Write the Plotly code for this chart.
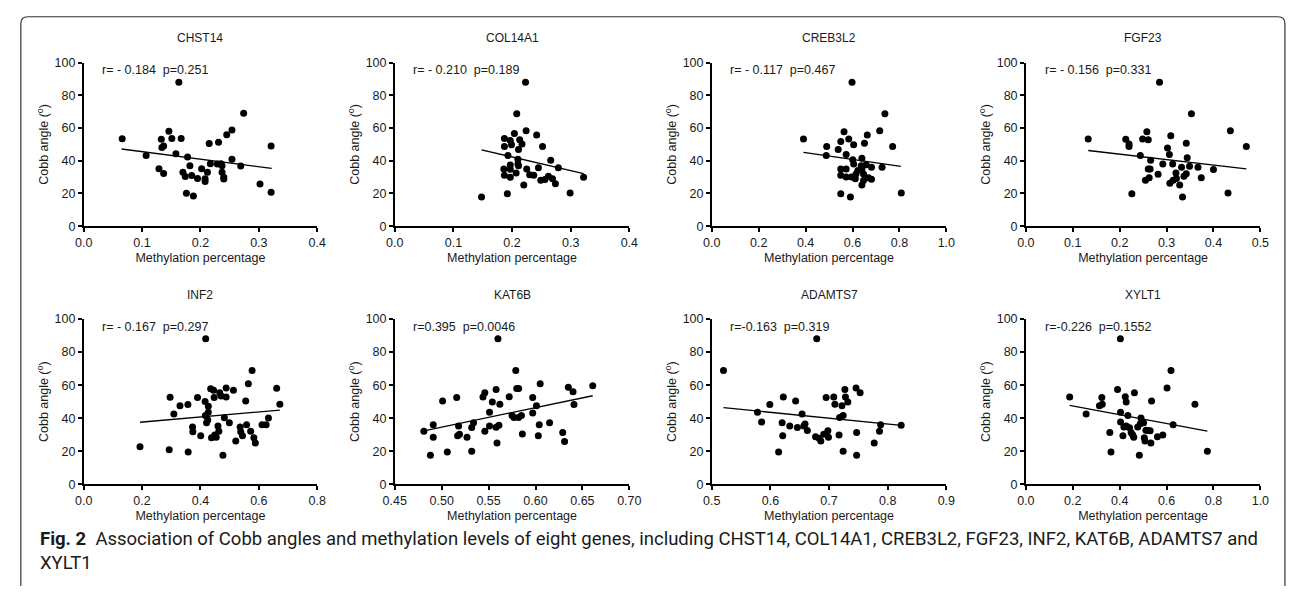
import plotly.graph_objects as go

# ---------------- data ----------------
genes = ["CHST14", "COL14A1", "CREB3L2", "FGF23", "INF2", "KAT6B", "ADAMTS7", "XYLT1"]
stats_text = ["r= - 0.184  p=0.251", "r= - 0.210  p=0.189", "r= - 0.117  p=0.467",
              "r= - 0.156  p=0.331", "r= - 0.167  p=0.297", "r=0.395  p=0.0046",
              "r=-0.163  p=0.319", "r=-0.226  p=0.1552"]

CHST14_x = [0.066, 0.107, 0.129, 0.133, 0.134, 0.137, 0.137, 0.146, 0.151, 0.158, 0.163, 0.167,
            0.170, 0.174, 0.176, 0.178, 0.182, 0.185, 0.188, 0.195, 0.202, 0.208, 0.208, 0.212,
            0.215, 0.217, 0.229, 0.231, 0.235, 0.237, 0.237, 0.240, 0.240, 0.245, 0.254, 0.254,
            0.269, 0.274, 0.302, 0.321, 0.321]
CHST14_y = [53.5, 43.3, 35.2, 53.1, 48.1, 49.1, 32.2, 58.0, 53.7, 44.3, 88.0, 53.7,
            33.0, 30.4, 20.1, 42.3, 37.0, 31.0, 18.5, 29.2, 35.2, 29.0, 27.4, 33.0,
            50.5, 38.2, 38.0, 51.3, 38.2, 37.0, 33.0, 30.0, 28.8, 55.9, 58.8, 41.0,
            36.8, 69.0, 25.8, 49.1, 20.7]

COL14A1_x = [0.148, 0.192, 0.186, 0.187, 0.187, 0.187, 0.193, 0.197, 0.197, 0.197, 0.197, 0.199,
             0.204, 0.208, 0.207, 0.210, 0.210, 0.211, 0.211, 0.213, 0.217, 0.220, 0.223, 0.224,
             0.225, 0.230, 0.237, 0.242, 0.245, 0.249, 0.252, 0.256, 0.262, 0.266, 0.269, 0.274,
             0.279, 0.299, 0.322]
COL14A1_y = [17.9, 19.9, 35.0, 31.1, 53.7, 48.8, 43.3, 37.4, 34.8, 29.9, 52.4, 49.8,
             56.7, 68.8, 32.5, 40.9, 38.0, 37.0, 46.9, 52.8, 50.2, 25.2, 88.0, 58.3,
             35.0, 31.5, 31.1, 55.8, 35.8, 28.1, 48.8, 28.5, 30.5, 40.4, 29.0, 26.0,
             35.8, 20.3, 29.9]

CREB3L2_x = [0.391, 0.490, 0.488, 0.539, 0.550, 0.550, 0.550, 0.550, 0.564, 0.573, 0.573, 0.573,
             0.584, 0.591, 0.598, 0.601, 0.605, 0.605, 0.596, 0.612, 0.615, 0.623, 0.640, 0.637,
             0.640, 0.640, 0.647, 0.647, 0.651, 0.658, 0.663, 0.668, 0.681, 0.681, 0.716, 0.726,
             0.738, 0.771, 0.808]
CREB3L2_y = [53.3, 48.8, 43.3, 46.9, 51.8, 35.0, 31.1, 19.9, 57.7, 43.9, 35.0, 30.1,
             53.3, 17.9, 88.0, 40.6, 38.0, 49.8, 30.1, 29.0, 32.0, 34.0, 41.5, 37.0,
             35.0, 25.2, 28.0, 32.0, 50.8, 37.6, 55.7, 29.7, 28.7, 36.0, 58.3, 36.0,
             68.8, 48.8, 20.3]

FGF23_x = [0.133, 0.213, 0.220, 0.220, 0.226, 0.244, 0.249, 0.255, 0.258, 0.261, 0.261, 0.265,
           0.266, 0.263, 0.282, 0.285, 0.292, 0.302, 0.306, 0.307, 0.309, 0.313, 0.314, 0.320,
           0.321, 0.328, 0.332, 0.334, 0.337, 0.342, 0.342, 0.344, 0.349, 0.353, 0.367, 0.374,
           0.400, 0.431, 0.436, 0.470]
FGF23_y = [53.3, 53.1, 50.2, 48.8, 19.9, 43.3, 53.3, 28.1, 57.7, 52.8, 35.0, 35.0,
           40.4, 29.7, 31.7, 88.0, 38.0, 47.8, 43.9, 26.2, 55.3, 38.0, 28.1, 32.5,
           29.1, 25.2, 36.0, 17.9, 30.5, 32.1, 50.8, 41.9, 36.6, 68.8, 36.0, 29.7,
           34.6, 20.3, 58.3, 48.8]

INF2_x = [0.193, 0.293, 0.296, 0.309, 0.330, 0.357, 0.358, 0.373, 0.374, 0.390, 0.401, 0.416,
          0.417, 0.418, 0.421, 0.425, 0.427, 0.427, 0.435, 0.438, 0.445, 0.447, 0.449, 0.454,
          0.460, 0.463, 0.466, 0.471, 0.477, 0.482, 0.488, 0.488, 0.499, 0.513, 0.521, 0.536,
          0.538, 0.544, 0.555, 0.558, 0.564, 0.572, 0.577, 0.583, 0.588, 0.611, 0.625, 0.633,
          0.661, 0.672]
INF2_y = [22.8, 21.0, 52.7, 42.6, 47.5, 48.3, 19.6, 34.8, 31.8, 52.5, 29.5, 50.1,
          41.7, 88.0, 37.3, 39.0, 47.2, 43.6, 57.8, 28.3, 57.0, 52.5, 29.9, 28.5,
          35.4, 32.2, 55.4, 53.4, 17.7, 40.3, 58.3, 52.8, 37.3, 57.0, 26.3, 34.8,
          31.8, 29.5, 50.5, 36.1, 60.9, 32.2, 68.8, 28.3, 25.0, 36.1, 36.1, 40.1,
          58.2, 48.5]

KAT6B_x = [0.481, 0.488, 0.491, 0.491, 0.501, 0.506, 0.516, 0.517, 0.518, 0.519, 0.527, 0.532,
           0.532, 0.534, 0.544, 0.546, 0.546, 0.551, 0.551, 0.554, 0.558, 0.558, 0.559, 0.560,
           0.561, 0.562, 0.572, 0.575, 0.577, 0.579, 0.580, 0.582, 0.582, 0.585, 0.586, 0.597,
           0.597, 0.601, 0.603, 0.604, 0.605, 0.615, 0.629, 0.631, 0.635, 0.640, 0.641, 0.661]
KAT6B_y = [32.2, 17.7, 28.5, 36.1, 50.5, 19.6, 52.5, 29.5, 35.4, 30.3, 28.5, 34.4,
           20.0, 37.3, 52.8, 55.4, 32.2, 43.6, 35.4, 49.9, 57.4, 34.6, 25.0, 88.0,
           35.8, 48.5, 53.0, 41.7, 40.5, 68.8, 58.0, 58.0, 40.5, 41.7, 30.5, 52.5,
           43.2, 47.5, 29.5, 36.1, 60.9, 37.3, 31.4, 25.9, 58.7, 56.0, 48.3, 59.7]

ADAMTS7_x = [0.520, 0.578, 0.585, 0.599, 0.614, 0.620, 0.621, 0.622, 0.633, 0.643, 0.646, 0.654,
             0.657, 0.659, 0.663, 0.677, 0.679, 0.683, 0.686, 0.691, 0.695, 0.698, 0.699, 0.708,
             0.710, 0.717, 0.718, 0.722, 0.724, 0.724, 0.727, 0.728, 0.732, 0.746, 0.747, 0.747,
             0.753, 0.777, 0.786, 0.788, 0.823]
ADAMTS7_y = [68.8, 43.6, 37.7, 48.3, 19.6, 37.3, 29.5, 52.8, 35.4, 50.5, 34.4, 42.6,
             35.4, 36.5, 32.6, 28.9, 88.0, 27.9, 26.3, 30.3, 52.5, 32.4, 28.5, 52.8,
             48.5, 29.9, 40.5, 47.5, 41.7, 20.0, 57.4, 52.8, 49.9, 58.3, 31.4, 17.7,
             55.4, 25.0, 32.2, 36.1, 35.8]

XYLT1_x = [0.187, 0.257, 0.314, 0.324, 0.326, 0.358, 0.363, 0.391, 0.403, 0.404, 0.404, 0.414,
           0.418, 0.424, 0.428, 0.428, 0.435, 0.442, 0.449, 0.456, 0.460, 0.463, 0.477, 0.484,
           0.488, 0.491, 0.502, 0.505, 0.508, 0.512, 0.522, 0.530, 0.533, 0.536, 0.561, 0.584,
           0.602, 0.619, 0.628, 0.721, 0.774]
XYLT1_y = [52.8, 42.6, 47.5, 52.5, 48.5, 31.4, 19.6, 57.4, 88.0, 43.6, 37.7, 29.5,
           34.8, 53.0, 49.9, 35.4, 41.7, 34.2, 31.4, 29.9, 28.5, 55.4, 34.8, 17.7,
           36.7, 40.1, 37.3, 28.3, 26.3, 32.8, 32.6, 32.4, 25.0, 50.5, 28.9, 29.9,
           58.3, 68.8, 36.1, 48.5, 20.0]

# regression line end points
fit_x = [[0.065, 0.322], [0.148, 0.322], [0.391, 0.806], [0.133, 0.470],
         [0.193, 0.672], [0.481, 0.661], [0.520, 0.823], [0.187, 0.774]]
fit_y = [[47.2, 35.3], [46.7, 32.1], [45.2, 36.6], [46.3, 35.0],
         [37.6, 44.9], [32.4, 53.6], [46.4, 35.7], [47.8, 32.3]]

x_ranges = [[0, 0.4], [0, 0.4], [0, 1.0], [0, 0.5], [0, 0.8], [0.45, 0.70], [0.5, 0.9], [0, 1.0]]
x_dticks = [0.1, 0.1, 0.2, 0.1, 0.2, 0.05, 0.1, 0.2]
x_formats = [".1f", ".1f", ".1f", ".1f", ".1f", ".2f", ".1f", ".1f"]
y_range = [0, 100]
y_dtick = 20

xs = [CHST14_x, COL14A1_x, CREB3L2_x, FGF23_x, INF2_x, KAT6B_x, ADAMTS7_x, XYLT1_x]
ys = [CHST14_y, COL14A1_y, CREB3L2_y, FGF23_y, INF2_y, KAT6B_y, ADAMTS7_y, XYLT1_y]

caption_bold = "Fig. 2"
caption_text = ("Association of Cobb angles and methylation levels of eight genes, including CHST14, "
                "COL14A1, CREB3L2, FGF23, INF2, KAT6B, ADAMTS7 and<br>XYLT1")

# ---------------- layout ----------------
W, H = 1293, 594
col_px = [(73, 311), (390, 629), (713, 952), (1033, 1272)]
row_px = [(57, 224.5), (319.5, 489)]   # (top=100, bottom=0)

FONT = "Liberation Sans, Arial, sans-serif"
TXT = "#1a1a1a"

fig = go.Figure()
layout = dict(
    width=W, height=H, margin=dict(l=0, r=0, t=0, b=0),
    paper_bgcolor="white", plot_bgcolor="white", showlegend=False,
    font=dict(family=FONT, size=12, color=TXT),
)
annotations = []

for i, g in enumerate(genes):
    r, c = divmod(i, 4)
    n = "" if i == 0 else str(i + 1)
    xa, ya = "x" + n, "y" + n
    x0, x1 = col_px[c]
    yt, yb = row_px[r]
    fig.add_trace(go.Scatter(x=xs[i], y=ys[i], mode="markers", xaxis=xa, yaxis=ya,
                             marker=dict(size=7, color="black"), cliponaxis=False))
    fig.add_trace(go.Scatter(x=fit_x[i], y=fit_y[i], mode="lines", xaxis=xa, yaxis=ya,
                             line=dict(color="black", width=1.3)))
    axcommon = dict(showline=True, linecolor="black", linewidth=1.5, ticks="outside",
                    ticklen=4, tickwidth=1.5, tickcolor="black", showgrid=False,
                    zeroline=False, tickfont=dict(family=FONT, size=12.5, color=TXT))
    layout["xaxis" + n] = dict(axcommon, domain=[x0 / W, x1 / W], anchor=ya,
                               range=x_ranges[i], dtick=x_dticks[i], tick0=x_ranges[i][0],
                               tickformat=x_formats[i],
                               title=dict(text="Methylation percentage", standoff=4,
                                          font=dict(family=FONT, size=12.5, color=TXT)))
    layout["yaxis" + n] = dict(axcommon, domain=[1 - yb / H, 1 - yt / H], anchor=xa,
                               range=y_range, dtick=y_dtick, tick0=0,
                               title=dict(text="Cobb angle (<sup>o</sup>)", standoff=3,
                                          font=dict(family=FONT, size=12.5, color=TXT)))
    # panel title
    annotations.append(dict(text=g, x=(x0 + x1) / 2 / W, y=1 - (yt - 25) / H, xref="paper",
                            yref="paper", showarrow=False, xanchor="center", yanchor="middle",
                            font=dict(family=FONT, size=12, color=TXT)))
    # stats text
    annotations.append(dict(text=stats_text[i].replace("  ", "\u00a0\u00a0"),
                            x=(x0 + 17) / W, y=1 - (yt + 8) / H, xref="paper", yref="paper",
                            showarrow=False, xanchor="left", yanchor="middle",
                            font=dict(family=FONT, size=12.5, color=TXT)))

annotations.append(dict(text="<b>" + caption_bold + "</b>\u00a0\u00a0" + caption_text,
                        x=27 / W, y=1 - 532 / H, xref="paper", yref="paper", showarrow=False,
                        xanchor="left", yanchor="top", align="left",
                        font=dict(family="Roboto, sans-serif", size=18.5, color=TXT)))
layout["annotations"] = annotations

# outer rounded frame
L, T, R, B, rad = 9, 10, 1297, 593, 7
def P(x, y):
    return f"{x / W:.5f},{1 - y / H:.5f}"
path = (f"M {P(L, B)} L {P(L, T + rad)} Q {P(L, T)} {P(L + rad, T)} "
        f"L {P(R - rad, T)} Q {P(R, T)} {P(R, T + rad)} L {P(R, B)}")
layout["shapes"] = [dict(type="path", path=path, xref="paper", yref="paper",
                         line=dict(color="#333333", width=1.2))]

fig.update_layout(**layout)
fig.write_html("out.html", config={"displayModeBar": False},
               post_script="document.body.style.margin='0';document.body.style.overflow='hidden';")
